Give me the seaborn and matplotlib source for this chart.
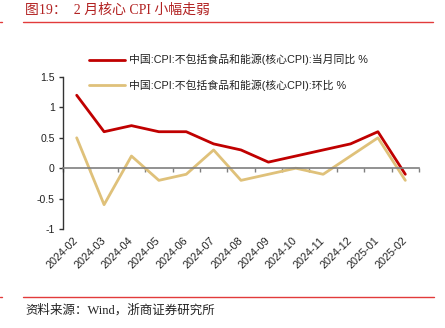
import matplotlib
matplotlib.use('Agg')
import matplotlib.pyplot as plt
import seaborn as sns
import pandas as pd
import numpy as np
from matplotlib.lines import Line2D

months = ['2024-02', '2024-03', '2024-04', '2024-05', '2024-06', '2024-07', '2024-08',
          '2024-09', '2024-10', '2024-11', '2024-12', '2025-01', '2025-02']
core_yoy = [1.2, 0.6, 0.7, 0.6, 0.6, 0.4, 0.3, 0.1, 0.2, 0.3, 0.4, 0.6, -0.1]
core_mom = [0.5, -0.6, 0.2, -0.2, -0.1, 0.3, -0.2, -0.1, 0.0, -0.1, 0.2, 0.5, -0.2]
label_yoy = '中国:CPI:不包括食品和能源(核心CPI):当月同比 %'
label_mom = '中国:CPI:不包括食品和能源(核心CPI):环比 %'
yticks = [-1, -0.5, 0, 0.5, 1, 1.5]
title = '图19：  2 月核心 CPI 小幅走弱'
source = '资料来源：Wind，浙商证券研究所'

RED = '#C00000'
GOLD = '#DFC17A'
RULE = '#E23B3B'

sns.set_theme(style='white')
plt.rcParams['font.family'] = ['Liberation Sans', 'Noto Sans CJK SC']
plt.rcParams['axes.unicode_minus'] = False

df = pd.DataFrame({
    'month': months * 2,
    'value': core_yoy + core_mom,
    'series': [label_yoy] * len(months) + [label_mom] * len(months),
})

W, H = 445, 328
fig = plt.figure(figsize=(W / 100, H / 100), dpi=100)
ax = fig.add_axes([63 / W, 1 - 229 / H, 356 / W, 152 / H])

sns.lineplot(data=df, x='month', y='value', hue='series', palette=[RED, GOLD],
             linewidth=2.0, sort=False, ax=ax)

n = len(months)
ax.set_xlim(-0.5, n - 0.5)
ax.set_ylim(-1, 1.5)
ax.set_yticks(yticks)
ax.set_yticklabels([f'{v:g}' for v in yticks], fontsize=7.6, color='#222222')
ax.set_xlabel('')
ax.set_ylabel('')

for s in ['top', 'right']:
    ax.spines[s].set_visible(False)
ax.spines['left'].set_color('#333333')
ax.spines['left'].set_linewidth(1.0)
ax.spines['bottom'].set_position(('data', 0))
ax.spines['bottom'].set_color('#7f7f7f')
ax.spines['bottom'].set_linewidth(1.2)

ax.tick_params(axis='y', direction='out', length=3, width=1, color='#333333', pad=3, left=True)
ax.set_xticks(np.arange(n))
ax.set_xticks(np.arange(-0.5, n, 1.0), minor=True)
ax.tick_params(axis='x', which='major', length=0, labelbottom=False)
ax.tick_params(axis='x', which='minor', direction='out', length=3, width=1, color='#7f7f7f', bottom=True)

sec = ax.secondary_xaxis(0)
sec.set_xticks(np.arange(n))
sec.set_xticklabels(months, fontsize=7.8, rotation=45, ha='right', va='center',
                    rotation_mode='anchor', color='#222222')
sec.tick_params(length=0, pad=7)
sec.spines['bottom'].set_visible(False)

handles, labels = ax.get_legend_handles_labels()
leg = ax.legend(handles, labels, loc='upper left', bbox_to_anchor=(89 / W, 1 - 54 / H),
                bbox_transform=fig.transFigure, frameon=False, fontsize=7.8,
                handlelength=3.3, handletextpad=0.4, labelspacing=1.3,
                borderpad=0, borderaxespad=0)
for t in leg.get_texts():
    t.set_color('#222222')

fig.text(25 / W, 1 - 10 / H, title, fontsize=10, color='#B22222', va='center', ha='left',
         family=['Liberation Serif', 'Noto Sans CJK SC'])
fig.add_artist(Line2D([23 / W, 433 / W], [1 - 22 / H] * 2, color=RULE, lw=1.0))
fig.add_artist(Line2D([0, 2 / W], [1 - 22 / H] * 2, color=RULE, lw=1.0))
fig.add_artist(Line2D([23 / W, 434 / W], [1 - 296.5 / H] * 2, color=RULE, lw=1.0))
fig.add_artist(Line2D([0, 2 / W], [1 - 296.5 / H] * 2, color=RULE, lw=1.0))
fig.text(25 / W, 1 - 310 / H, source, fontsize=9, color='#222222', va='center', ha='left',
         family=['Liberation Serif', 'Noto Sans CJK SC'])

fig.savefig('out.png', dpi=100)
